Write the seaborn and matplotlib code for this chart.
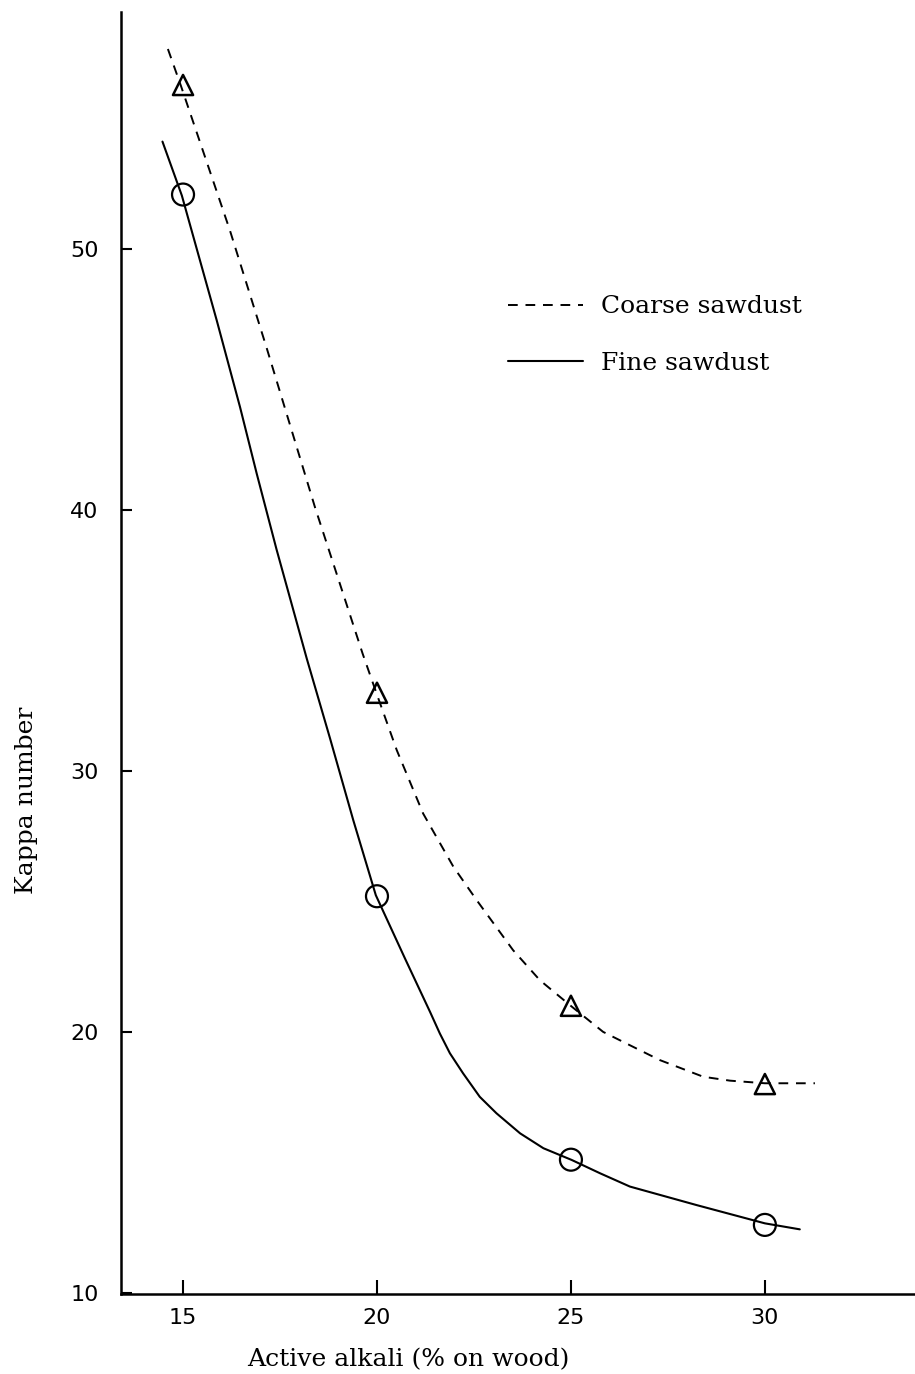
import matplotlib
matplotlib.use("Agg")
import matplotlib.pyplot as plt
import seaborn as sns
import pandas as pd

# Measured pulps: active alkali charge vs. Kappa number
alkali = [15, 20, 25, 30]
kappa_coarse = [56.3, 33.0, 21.0, 18.0]
kappa_fine = [52.1, 25.2, 15.1, 12.6]

# Hand-faired trend curves through the measurements
coarse_curve_x = [14.61, 14.95, 16.21, 17.16, 18.40, 19.63, 19.99, 20.51, 21.19, 21.97,
                  22.57, 23.51, 24.20, 24.97, 25.83, 26.26, 27.29, 28.41, 29.10, 30.0,
                  31.29]
coarse_curve_y = [57.68, 56.25, 50.72, 46.20, 40.12, 34.50, 32.97, 30.80, 28.37, 26.33,
                  25.05, 23.13, 21.98, 21.03, 20.0, 19.68, 18.92, 18.28, 18.13, 18.03,
                  18.03]
fine_curve_x = [14.47, 14.97, 15.87, 16.47, 16.90, 17.41, 18.19, 18.79, 19.39, 19.97,
                20.72, 21.37, 21.62, 21.88, 22.22, 22.65, 23.08, 23.69, 24.29, 25.02,
                25.75, 26.52, 28.24, 30.0, 30.90]
fine_curve_y = [54.13, 52.06, 47.27, 43.95, 41.40, 38.50, 34.31, 31.25, 28.11, 25.24,
                22.82, 20.76, 19.94, 19.18, 18.41, 17.51, 16.88, 16.11, 15.54, 15.09,
                14.58, 14.07, 13.36, 12.66, 12.43]

x_ticks = [15, 20, 25, 30]
y_ticks = [10, 20, 30, 40, 50]

sns.set_theme(style="ticks")
plt.rcParams["font.family"] = ["DejaVu Serif"]
plt.rcParams["text.color"] = "black"

fig = plt.figure(figsize=(9.15, 13.74), dpi=100)
ax = fig.add_axes([0.1322, 0.0582, 0.8678, 0.9331])

coarse_curve = pd.DataFrame({"x": coarse_curve_x, "y": coarse_curve_y})
fine_curve = pd.DataFrame({"x": fine_curve_x, "y": fine_curve_y})
points = pd.DataFrame({"alkali": alkali, "coarse": kappa_coarse, "fine": kappa_fine})

sns.lineplot(data=coarse_curve, x="x", y="y", ax=ax, sort=False, color="black",
             linewidth=1.4, linestyle=(0, (5, 4)), label="Coarse sawdust")
sns.lineplot(data=fine_curve, x="x", y="y", ax=ax, sort=False, color="black",
             linewidth=1.5, label="Fine sawdust")

sns.scatterplot(data=points, x="alkali", y="coarse", ax=ax, marker="^", s=210,
                facecolor="none", edgecolor="black", linewidth=1.8, zorder=4)
sns.scatterplot(data=points, x="alkali", y="fine", ax=ax, marker="o", s=250,
                facecolor="none", edgecolor="black", linewidth=1.6, zorder=4)

ax.set_xlim(13.40, 33.87)
ax.set_ylim(9.95, 59.1)
ax.set_xticks(x_ticks)
ax.set_yticks(y_ticks)
ax.set_xticklabels([str(t) for t in x_ticks], family="DejaVu Sans", fontsize=16)
ax.set_yticklabels([str(t) for t in y_ticks], family="DejaVu Sans", fontsize=16)

for side in ("top", "right"):
    ax.spines[side].set_visible(False)
for side in ("left", "bottom"):
    ax.spines[side].set_linewidth(1.8)
    ax.spines[side].set_color("black")

ax.tick_params(axis="x", direction="in", length=10, width=1.5, pad=10, colors="black")
ax.tick_params(axis="y", direction="in", length=8, width=1.5, pad=16, colors="black")

ax.set_xlabel("Active alkali (% on wood)", fontsize=18, color="black")
ax.set_ylabel("Kappa number", fontsize=18, color="black")
ax.xaxis.set_label_coords(0.3615, -0.0421)
ax.yaxis.set_label_coords(-0.1045, 0.385)

handles, labels = ax.get_legend_handles_labels()
ax.legend(handles[:2], labels[:2], loc="upper left", bbox_to_anchor=(0.487, 0.779),
          frameon=False, fontsize=18, handlelength=3.0, handletextpad=0.75,
          labelspacing=1.34, borderpad=0, borderaxespad=0, labelcolor="black")

fig.savefig("out.png", dpi=100)
